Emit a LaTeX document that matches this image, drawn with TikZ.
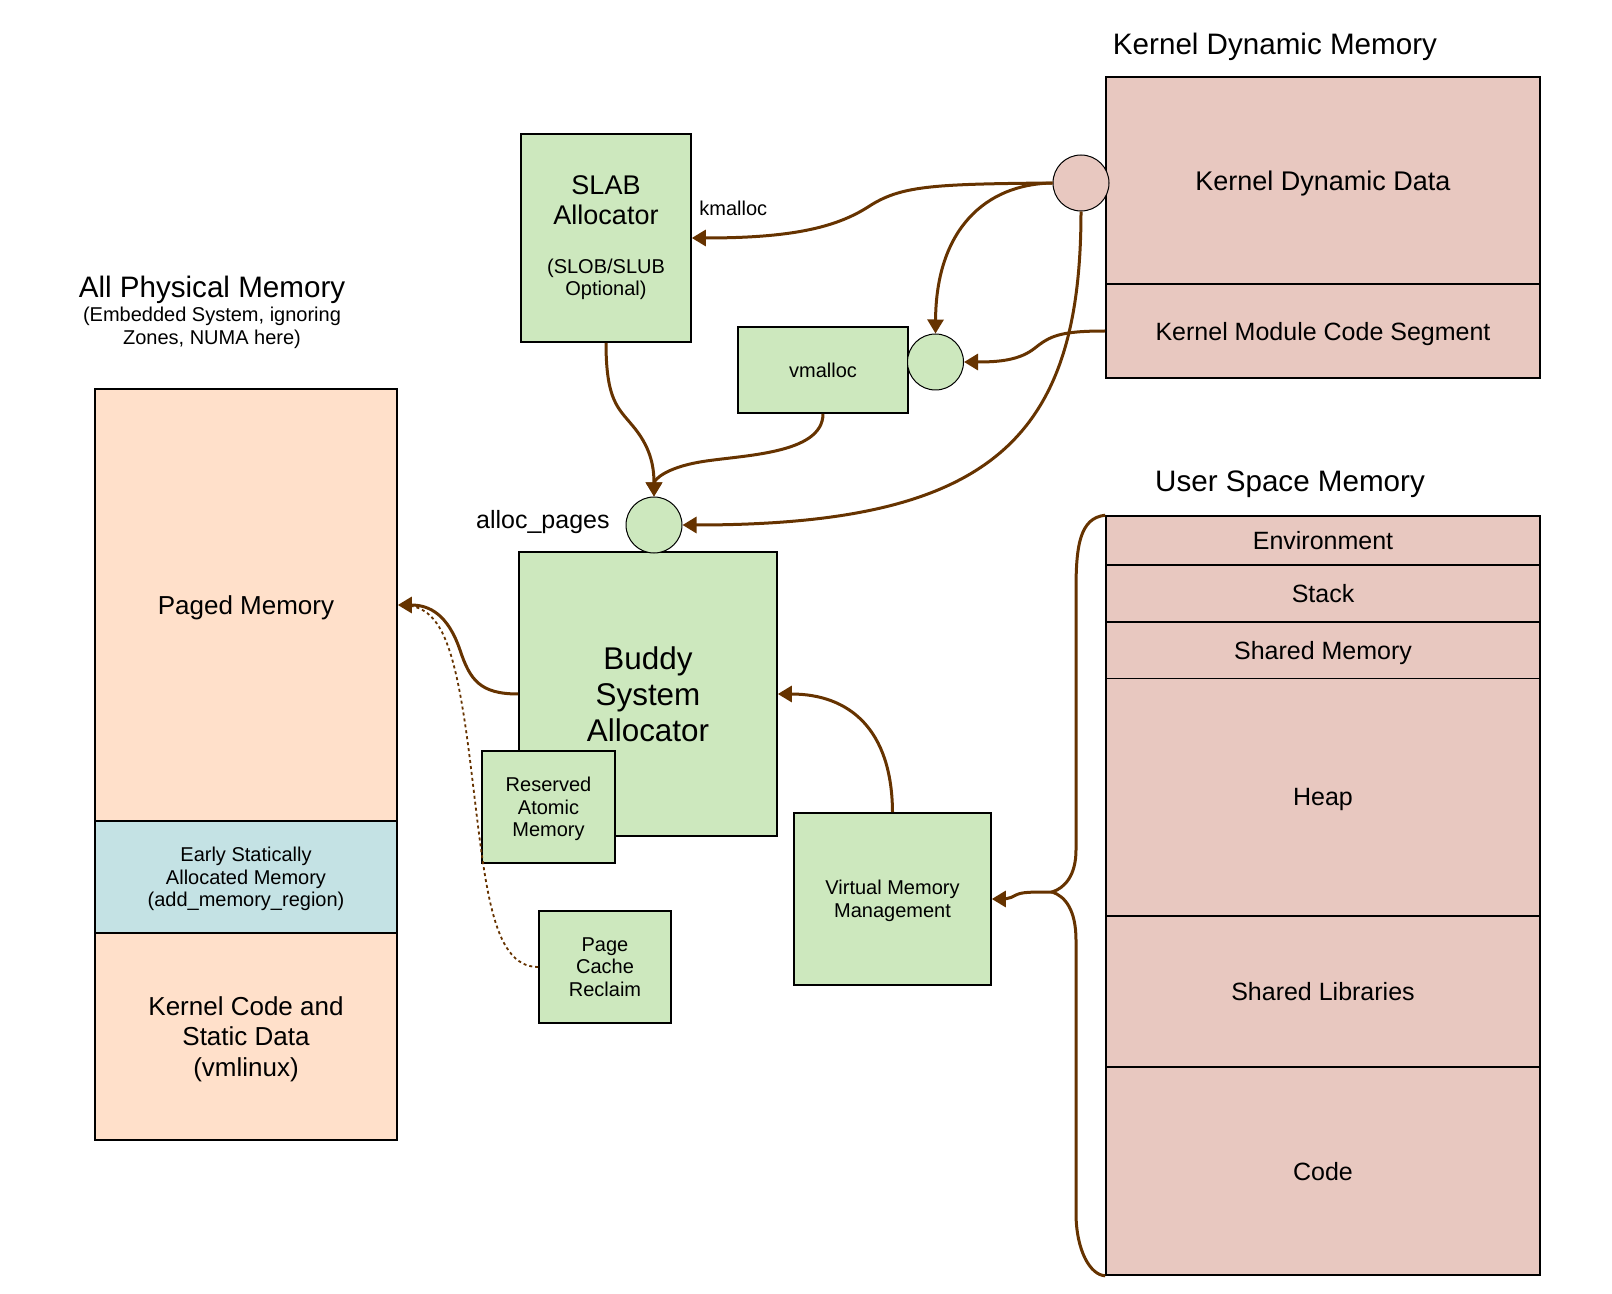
\documentclass[tikz,border=0pt]{standalone}
\usepackage{fontspec}
\setmainfont{Liberation Sans}
\usepackage{tikz}
\usepackage{xcolor}
\usetikzlibrary{arrows.meta}

\definecolor{allocgreen}{HTML}{CDE8BE}
\definecolor{kernpink}{HTML}{E8C8C0}
\definecolor{physpeach}{HTML}{FFE0CA}
\definecolor{earlyblue}{HTML}{C4E2E4}
\definecolor{arrowbrown}{HTML}{663300}

\newcommand{\fsTitle}{\fontsize{14.8pt}{17pt}\selectfont}
\newcommand{\fsBig}{\fontsize{15.7pt}{18pt}\selectfont}
\newcommand{\fsMid}{\fontsize{13.5pt}{15pt}\selectfont}
\newcommand{\fsPhys}{\fontsize{13pt}{15.4pt}\selectfont}
\newcommand{\fsLab}{\fontsize{12.5pt}{15pt}\selectfont}
\newcommand{\fsSmall}{\fontsize{10pt}{11.3pt}\selectfont}

\tikzset{
	blk/.style={draw, line width=0.8pt, inner sep=0pt, align=center, text depth=0pt},
	alloc/.style={blk, fill=allocgreen, font=\fsSmall},
	kern/.style={blk, fill=kernpink, minimum width=217pt, font=\fsLab},
	phys/.style={blk, minimum width=151pt},
	port/.style={circle, draw, line width=0.5pt, minimum size=28pt, inner sep=0pt},
	link/.style={draw=arrowbrown, line width=1.5pt, -{Triangle[length=7pt,width=8pt]}},
}

\begin{document}
\begin{tikzpicture}[x=0.5pt,y=-0.5pt]
		\useasboundingbox (0,0) rectangle (1612,1294);
		%physical memory
		\node[font=\fsTitle] (phys-title) at (212,290) {All Physical Memory};
		\node[font=\fsSmall,align=center] (phys-note) at (212,328) {(Embedded System, ignoring\\Zones, NUMA here)};
		\node[phys,fill=physpeach,minimum height=216pt,font=\fsPhys] (paged) at (246,605) {Paged Memory};
		\node[phys,fill=earlyblue,minimum height=56pt,font=\fsSmall] (early) at (246,877) {Early Statically\\Allocated Memory\\(add\_memory\_region)};
		\node[phys,fill=physpeach,minimum height=103.5pt,font=\fsPhys] (kcode) at (246,1036.5) {Kernel Code and\\Static Data\\(vmlinux)};
		%kernel dynamic memory
		\node[font=\fsTitle] (kdyn-title) at (1275,47) {Kernel Dynamic Memory};
		\node[kern,minimum height=103.5pt,font=\fsMid] (kdata) at (1323,180.5) {Kernel Dynamic Data};
		\node[kern,minimum height=47pt] (kmod) at (1323,331) {Kernel Module Code Segment};
		%user space memory
		\node[font=\fsTitle] (user-title) at (1290,484) {User Space Memory};
		\node[kern,minimum height=24.5pt] (env) at (1323,540.5) {Environment};
		\node[kern,minimum height=28.5pt] (stack) at (1323,593.5) {Stack};
		\node[kern,minimum height=28.25pt] (shm) at (1323,650.25) {Shared Memory};
		\node[kern,minimum height=118.75pt] (heap) at (1323,797.25) {Heap};
		\node[kern,minimum height=75.5pt] (shlib) at (1323,991.5) {Shared Libraries};
		\node[kern,minimum height=104pt] (code) at (1323,1171) {Code};
		%allocators
		\node[alloc,minimum width=85pt,minimum height=104pt,text width=80pt,text depth={}] (slab) at (606,238) {{\fsMid SLAB\\Allocator\par}\vspace{13pt}{(SLOB/SLUB\\Optional)\par}};
		\node[alloc,minimum width=85pt,minimum height=43pt] (vmalloc) at (823,370) {vmalloc};
		\node[alloc,minimum width=129pt,minimum height=142pt,font=\fsBig] (buddy) at (648,694) {Buddy\\System\\Allocator};
		\node[alloc,minimum width=66.5pt,minimum height=56pt] (reserved) at (548.5,807) {Reserved\\Atomic\\Memory};
		\node[alloc,minimum width=66pt,minimum height=56pt] (pagecache) at (605,967) {Page\\Cache\\Reclaim};
		\node[alloc,minimum width=98.5pt,minimum height=86pt] (vmm) at (892.5,899) {Virtual Memory\\Management};
		%entry points
		\node[port,fill=kernpink] (kport) at (1081,183) {};
		\node[port,fill=allocgreen] (vport) at (935.5,362) {};
		\node[port,fill=allocgreen] (aport) at (654,525) {};
		\node[font=\fsSmall,anchor=west,inner sep=0pt] (kmalloc) at (699,208) {kmalloc};
		\node[font=\fsLab,anchor=east,inner sep=0pt] (alloc-lbl) at (610,522) {alloc\_pages};
		%arrows
		\draw[link] (kport.west) .. controls (930,184) and (900,186) .. (868,207) .. controls (835,228) and (790,238) .. (slab.east);
		\draw[link] (kport.west) .. controls (985,184) and (936,230) .. (vport.north);
		\draw[link] (kport.south) .. controls (1081,440) and (990,525) .. (aport.east);
		\draw[link] (kmod.west) .. controls (1060,331) and (1050,336) .. (1035,348) .. controls (1020,360) and (1000,362) .. (vport.east);
		\draw[link] (slab.south) .. controls (606,400) and (618,408) .. (632,425) .. controls (650,446) and (654,465) .. (aport.north);
		\draw[link] (vmalloc.south) .. controls (823,455) and (740,455) .. (700,462) .. controls (665,468) and (654,480) .. (aport.north);
		\draw[arrowbrown,line width=0.9pt,dash pattern=on 1.5pt off 1.5pt] (pagecache.west) .. controls (490,967) and (485,880) .. (470,760) .. controls (455,640) and (440,607) .. ([xshift=3pt]paged.east);
		\draw[link] (buddy.west) .. controls (480,694) and (470,680) .. (460,650) .. controls (448,615) and (430,605) .. (paged.east);
		\draw[link] (vmm.north) .. controls (892,730) and (850,694) .. (buddy.east);
		%brace over user space
		\coordinate (brace) at (1052,892);
		\draw[arrowbrown,line width=1.5pt] (env.north west) .. controls (1080,518) and (1076,545) .. (1076,590) -- (1076,850) .. controls (1076,875) and (1065,888) .. (brace) .. controls (1065,896) and (1076,910) .. (1076,940) -- (1076,1213) .. controls (1076,1250) and (1090,1275) .. (code.south west);
		\draw[link] (brace) .. controls (1030,892) and (1022,892) .. (1016,895) .. controls (1010,899) and (1002,899) .. (vmm.east);
	\end{tikzpicture}
\end{document}
